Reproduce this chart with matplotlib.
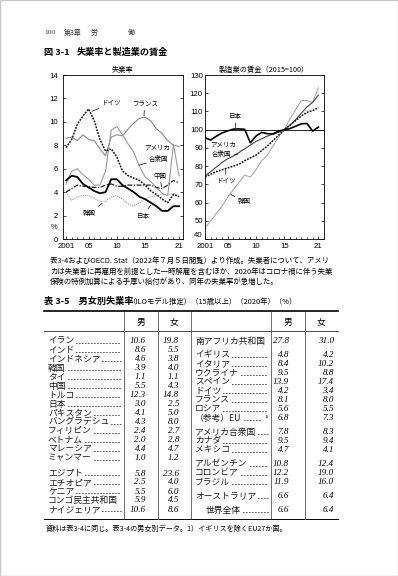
import matplotlib
matplotlib.use("Agg")
import matplotlib.pyplot as plt
from matplotlib.lines import Line2D
from matplotlib.patches import Rectangle

JP = "Noto Sans CJK JP"
plt.rcParams["font.family"] = [JP, "DejaVu Sans"]

# ---- data: unemployment rate (%) ----
years = list(range(2001, 2022))
unemp_germany = [7.8, 8.5, 9.8, 10.5, 11.1, 10.1, 8.5, 7.5, 7.7, 7.0, 5.8,
                 5.4, 5.2, 5.0, 4.6, 4.1, 3.8, 3.4, 3.1, 3.8, 3.6]
unemp_france = [8.6, 8.7, 8.4, 8.9, 8.5, 8.4, 7.7, 7.1, 8.7, 8.9, 8.8,
                9.4, 9.9, 10.3, 10.4, 10.1, 9.4, 9.0, 8.4, 8.0, 7.9]
unemp_usa = [4.7, 5.8, 6.0, 5.5, 5.1, 4.6, 4.6, 5.8, 9.3, 9.6, 8.9,
             8.1, 7.4, 6.2, 5.3, 4.9, 4.4, 3.9, 3.7, 8.1, 5.4]
unemp_china = [4.0, 4.3, 4.6, 4.5, 4.5, 4.4, 4.4, 4.6, 4.7, 4.5, 4.5,
               4.6, 4.6, 4.6, 4.6, 4.6, 4.4, 4.3, 4.6, 5.0, 4.8]
unemp_japan = [5.0, 5.4, 5.3, 4.7, 4.4, 4.1, 3.9, 4.0, 5.1, 5.1, 4.6,
               4.3, 4.0, 3.6, 3.4, 3.1, 2.8, 2.4, 2.4, 2.8, 2.8]
unemp_korea = [4.0, 3.3, 3.6, 3.7, 3.7, 3.5, 3.2, 3.2, 3.6, 3.7, 3.4,
               3.0, 2.8, 3.1, 3.4, 3.6, 3.7, 3.8, 3.8, 3.9, 3.7]

# ---- data: manufacturing wages (2015=100) ----
wage_japan = [95.6, 94.3, 96.4, 98.2, 99.3, 100.3, 100.4, 100.2, 92.8, 96.5, 98.5,
              97.8, 97.7, 99.2, 100.0, 100.6, 101.9, 103.2, 103.4, 99.2, 101.4]
wage_usa = [74.5, 77.0, 79.5, 82.0, 84.0, 85.5, 87.5, 89.5, 91.5, 93.5, 95.0,
            96.5, 97.5, 98.5, 100.0, 102.5, 105.5, 109.0, 112.5, 115.0, 119.0]
wage_germany = [74.0, 75.5, 77.0, 78.0, 79.0, 80.0, 81.0, 83.0, 84.5, 86.0, 88.5,
                91.0, 94.0, 97.0, 100.0, 102.5, 105.0, 107.5, 109.5, 110.5, 112.0]
wage_korea = [46, 50, 54, 58, 63, 67, 71, 75, 74, 78, 83,
              86, 91, 96, 100, 106, 111, 116, 116, 115, 123]

xtick_years = [2001, 2005, 2010, 2015, 2021]
xtick_labels = ["2001", "05", "10", "15", "21"]

# ---- data: table 3-5 ----
left_names = ["イラン", "インド", "インドネシア", "韓国", "タイ", "中国", "トルコ",
              "日本", "パキスタン", "バングラデシュ", "フィリピン", "ベトナム",
              "マレーシア", "ミャンマー", "エジプト", "エチオピア", "ケニア",
              "コンゴ民主共和国", "ナイジェリア"]
left_male = [10.6, 8.6, 4.6, 3.9, 1.1, 5.5, 12.3, 3.0, 4.1, 4.3, 2.4, 2.0,
             4.4, 1.0, 5.8, 2.5, 5.5, 5.9, 10.6]
left_female = [19.8, 5.5, 3.8, 4.0, 1.1, 4.3, 14.8, 2.5, 5.0, 8.0, 2.7, 2.8,
               4.7, 1.2, 23.6, 4.0, 6.0, 4.5, 8.6]
left_breaks = [14]

right_names = ["南アフリカ共和国", "イギリス", "イタリア", "ウクライナ", "スペイン",
               "ドイツ", "フランス", "ロシア", "（参考）EU", "アメリカ合衆国",
               "カナダ", "メキシコ", "アルゼンチン", "コロンビア", "ブラジル",
               "オーストラリア", "世界全体"]
right_male = [27.8, 4.8, 8.4, 9.5, 13.9, 4.2, 8.1, 5.6, 6.8, 7.8, 9.5, 4.7,
              10.8, 12.2, 11.9, 6.6, 6.6]
right_female = [31.0, 4.2, 10.2, 8.8, 17.4, 3.4, 8.0, 5.5, 7.3, 8.3, 9.4, 4.1,
                12.4, 19.0, 16.0, 6.4, 6.4]
right_breaks = [1, 9, 12, 15, 16]

# ---- page helpers (pixel coords, origin top-left) ----
W, H = 398, 576
fig = plt.figure(figsize=(W / 100, H / 100), dpi=100)
fig.patch.set_facecolor("white")


def fx(x):
    return x / W


def fy(y):
    return 1 - y / H


def put(x, y, s, size, ha="left", **kw):
    return fig.text(fx(x), fy(y), s, fontsize=size, ha=ha, va="center", **kw)


def hline(x0, x1, y, lw, color="black"):
    fig.add_artist(Line2D([fx(x0), fx(x1)], [fy(y), fy(y)], lw=lw, color=color))


def vline(x, y0, y1, lw, color="black"):
    fig.add_artist(Line2D([fx(x), fx(x)], [fy(y0), fy(y1)], lw=lw, color=color))


fig.add_artist(Rectangle((0, 0), 1, 1, transform=fig.transFigure, fill=False,
                         edgecolor="#c8c8c8", lw=1.0))

# page header and figure title
put(44, 33, "100", 5.4, family="Liberation Serif", color="#333333")
put(64, 33, "第3章", 5.0, color="#333333")
put(91, 33, "労", 5.0, color="#333333")
put(128, 33, "働", 5.0, color="#333333")
put(44, 52, "図 3-1", 6.6, weight="bold")
put(77, 52, "失業率と製造業の賃金", 6.6, weight="bold")

# ---- charts ----
ax1 = fig.add_axes([fx(63), fy(239), 120 / W, 164 / H])
ax2 = fig.add_axes([fx(205), fy(239), 119 / W, 164 / H])

ax1.plot(years, unemp_france, color="#8a8a8a", lw=0.8)
ax1.plot(years, unemp_usa, color="#9a9a9a", lw=0.8)
ax1.plot(years, unemp_korea, color="#9a9a9a", lw=0.8, ls=(0, (1.0, 1.0)))
ax1.plot(years, unemp_china, color="#222222", lw=0.9, ls=(0, (4, 1.2, 1, 1.2)))
ax1.plot(years, unemp_germany, color="#111111", lw=1.1, ls=(0, (1.2, 0.8)))
ax1.plot(years, unemp_japan, color="black", lw=1.3)

ax2.axhline(100, color="black", lw=0.6)
ax2.plot(years, wage_korea, color="#a0a0a0", lw=0.7)
ax2.plot(years, wage_usa, color="#444444", lw=0.8)
ax2.plot(years, wage_germany, color="#111111", lw=1.1, ls=(0, (1.2, 0.8)))
ax2.plot(years, wage_japan, color="black", lw=1.2)

ax1.set_xlim(2000.47, 2021.7)
ax1.set_ylim(0, 14)
ax1.set_yticks(range(0, 15, 2))
ax2.set_xlim(2001, 2022)
ax2.set_ylim(40, 130)
ax2.set_yticks(range(40, 131, 10))

for ax, ypad in ((ax1, 3.6), (ax2, 1.6)):
    ax.set_xticks(xtick_years)
    ax.set_xticklabels(xtick_labels)
    ax.set_xticks(years, minor=True)
    ax.tick_params(which="both", direction="in", right=True, width=0.5,
                   labelsize=5.6, length=2.2)
    ax.tick_params(which="minor", length=1.4)
    ax.tick_params(axis="x", pad=2.6)
    ax.tick_params(axis="y", pad=ypad)
    for lab in ax.get_xticklabels() + ax.get_yticklabels():
        lab.set_family(["Liberation Sans", "DejaVu Sans"])
    for sp in ax.spines.values():
        sp.set_linewidth(0.6)
    ax.set_facecolor("none")

# keep the lowest wage label clear of the "2001" below it
ax2.get_yticklabels()[0].set_va("bottom")

put(57, 228, "%", 5.4, ha="right", family="Liberation Sans")
put(123, 70, "失業率", 5.2, ha="center")
put(264, 70, "製造業の賃金（2015=100）", 5.2, ha="center")

lab_kw = dict(fontsize=4.7, ha="center", va="center",
              arrowprops=dict(arrowstyle="-", lw=0.5, color="black",
                              shrinkA=0, shrinkB=0))
ax1.annotate("ドイツ", xy=(2005.6, 10.9), xytext=(2009.0, 11.6), **lab_kw)
ax1.annotate("フランス", xy=(2014.8, 10.5), xytext=(2014.9, 11.55), **lab_kw)
ax1.text(2017.2, 7.8, "アメリカ", fontsize=4.7, ha="center", va="center")
ax1.annotate("合衆国", xy=(2013.9, 6.3), xytext=(2017.4, 6.8), **lab_kw)
ax1.annotate("中国", xy=(2017.9, 4.45), xytext=(2017.6, 5.4), **lab_kw)
ax1.annotate("韓国", xy=(2007.4, 3.05), xytext=(2005.2, 2.2), **lab_kw)
ax1.annotate("日本", xy=(2016.0, 2.9), xytext=(2014.7, 2.0), **lab_kw)

ax2.annotate("日本", xy=(2006.4, 101.0), xytext=(2006.4, 107.3), **lab_kw)
ax2.text(2004.3, 91.8, "アメリカ", fontsize=4.7, ha="center", va="center")
ax2.annotate("合衆国", xy=(2006.8, 86.3), xytext=(2004.0, 86.7), **lab_kw)
ax2.annotate("ドイツ", xy=(2004.65, 78.3), xytext=(2004.7, 71.8), **lab_kw)
ax2.annotate("韓国", xy=(2005.5, 64.5), xytext=(2007.9, 60.6), **lab_kw)

# ---- note under the figure ----
note = ["表3-4およびOECD. Stat（2022年７月５日閲覧）より作成。失業者について、アメリ",
        "カは失業者に再雇用を前提とした一時解雇を含むほか、2020年はコロナ禍に伴う失業",
        "保険の特例加算による手厚い給付があり、同年の失業率が急増した。"]
for i, line in enumerate(note):
    put(50, 261 + i * 10.4, line, 5.35)

# ---- table 3-5 ----
put(44, 301.5, "表 3-5　男女別失業率", 6.6, weight="bold")
put(129, 301.5, "（ILOモデル推定）（15歳以上）（2020年）（%）", 5.3)

T_TOP, T_HEAD, T_BOT = 311, 331, 519
hline(44, 338, T_TOP, 1.2)
hline(44, 338, T_HEAD, 0.5)
hline(44, 338, T_BOT, 0.7)
for xv in (124, 157.5, 191, 271, 304.5):
    vline(xv, T_TOP, T_BOT, 0.5, color="#333333")
for xc, s in ((140.5, "男"), (174, "女"), (288, "男"), (321, "女")):
    put(xc, 322, s, 6.2, ha="center")


def row_ys(n, breaks, step, gap, y0=341):
    ys, y = [], y0
    for i in range(n):
        if i in breaks:
            y += gap
        ys.append(y)
        y += step
    return ys


num_kw = dict(family="Liberation Serif", style="italic")
name_texts = []
ys_left = row_ys(len(left_names), left_breaks, 9.0, 6.5)
for name, m, f, y in zip(left_names, left_male, left_female, ys_left):
    t = put(48, y, name, 6.3, color="#1a1a1a")
    name_texts.append((t, 121, y))
    put(146, y, f"{m:.1f}", 6.6, ha="right", **num_kw)
    put(179, y, f"{f:.1f}", 6.6, ha="right", **num_kw)

ys_right = row_ys(len(right_names), right_breaks, 9.0, 5.0)
for name, m, f, y in zip(right_names, right_male, right_female, ys_right):
    x0 = 206 if name == "世界全体" else 195
    t = put(x0, y, name, 6.3, color="#1a1a1a")
    end = 262 if "EU" in name else 268
    name_texts.append((t, end, y))
    if "EU" in name:
        put(269, y - 1.5, "1)", 3.6, ha="right", family="Liberation Serif")
    put(289, y, f"{m:.1f}", 6.6, ha="right", **num_kw)
    put(334, y, f"{f:.1f}", 6.6, ha="right", **num_kw)

# dotted leaders after the names
fig.canvas.draw()
rend = fig.canvas.get_renderer()
for t, end, y in name_texts:
    bb = t.get_window_extent(renderer=rend)
    start = bb.x1 + 2
    if end - start > 4:
        fig.add_artist(Line2D([fx(start), fx(end)], [fy(y + 1.5), fy(y + 1.5)],
                              lw=0.7, color="#333333", ls=(0, (0.7, 2.4)),
                              dash_capstyle="round"))

put(46, 528.5, "資料は表3-4に同じ。表3-4の男女別データ。1）イギリスを除くEU27か国。", 5.1)

fig.savefig("out.png", dpi=100, facecolor="white")
